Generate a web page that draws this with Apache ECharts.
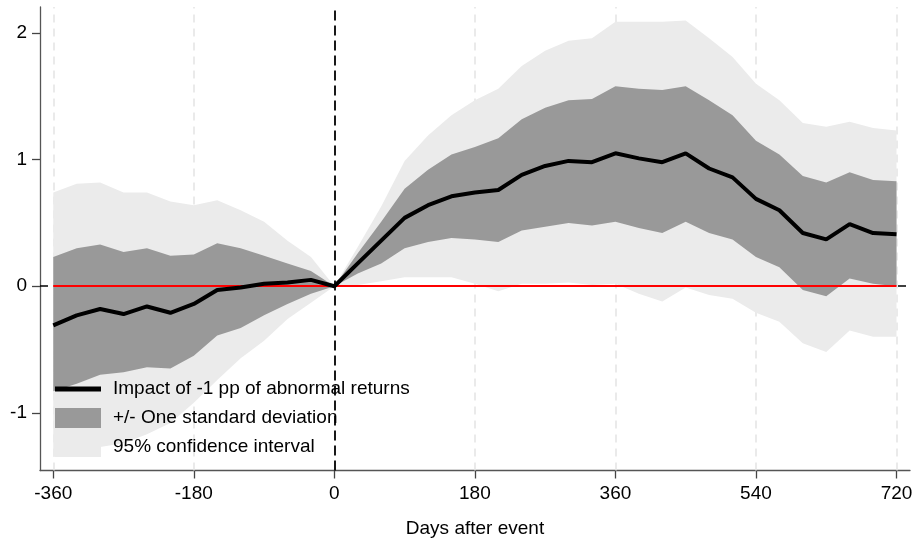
<!DOCTYPE html>
<html>
<head>
<meta charset="utf-8">
<title>Impact of abnormal returns</title>
<script src="https://cdn.jsdelivr.net/npm/echarts@6/dist/echarts.min.js"></script>
<style>
  html, body { margin: 0; padding: 0; background: #ffffff; }
  #chart { width: 914px; height: 539px; }
</style>
</head>
<body>
<div id="chart"></div>
<script>
// Days relative to the event, 30-day steps
const days = [-360, -330, -300, -270, -240, -210, -180, -150, -120, -90, -60, -30, 0,
  30, 60, 90, 120, 150, 180, 210, 240, 270, 300, 330, 360, 390, 420, 450, 480, 510,
  540, 570, 600, 630, 660, 690, 720];

// Point estimate of the impact
const impact = [-0.31, -0.23, -0.18, -0.22, -0.16, -0.21, -0.14, -0.03, -0.01, 0.02, 0.03, 0.05, 0,
  0.18, 0.36, 0.54, 0.64, 0.71, 0.74, 0.76, 0.88, 0.95, 0.99, 0.98, 1.05, 1.01, 0.98, 1.05, 0.93, 0.86,
  0.69, 0.60, 0.42, 0.37, 0.49, 0.42, 0.41];

// +/- one standard deviation
const sdHigh = [0.23, 0.30, 0.33, 0.27, 0.30, 0.24, 0.25, 0.34, 0.30, 0.24, 0.18, 0.12, 0,
  0.26, 0.51, 0.77, 0.92, 1.04, 1.10, 1.17, 1.32, 1.41, 1.47, 1.48, 1.58, 1.56, 1.55, 1.58, 1.47, 1.35,
  1.15, 1.04, 0.87, 0.82, 0.90, 0.84, 0.83];
const sdLow = [-0.83, -0.77, -0.70, -0.68, -0.64, -0.65, -0.55, -0.39, -0.33, -0.23, -0.14, -0.06, 0,
  0.10, 0.18, 0.30, 0.35, 0.38, 0.37, 0.35, 0.44, 0.47, 0.50, 0.48, 0.51, 0.46, 0.42, 0.51, 0.42, 0.37,
  0.23, 0.15, -0.03, -0.08, 0.06, 0.02, 0.00];

// 95% confidence interval
const ciHigh = [0.74, 0.81, 0.82, 0.74, 0.74, 0.67, 0.64, 0.68, 0.60, 0.51, 0.36, 0.23, 0,
  0.31, 0.63, 0.99, 1.19, 1.35, 1.47, 1.56, 1.74, 1.86, 1.94, 1.96, 2.09, 2.09, 2.09, 2.10, 1.96, 1.81,
  1.60, 1.47, 1.29, 1.26, 1.30, 1.25, 1.23];
const ciLow = [-1.35, -1.31, -1.27, -1.24, -1.17, -1.08, -0.92, -0.74, -0.57, -0.43, -0.26, -0.13, 0,
  0.01, 0.04, 0.07, 0.07, 0.07, 0.02, -0.04, 0.02, 0.02, 0.03, 0.01, 0.02, -0.06, -0.12, -0.01, -0.07, -0.10,
  -0.21, -0.28, -0.45, -0.52, -0.35, -0.40, -0.40];

// Axis tick labels
const xTicks = [-360, -180, 0, 180, 360, 540, 720];
const yTicks = [-1, 0, 1, 2];
const xGridLines = [-360, -180, 180, 360, 540, 720];

const NAME_LINE = 'Impact of -1 pp of abnormal returns';
const NAME_SD = '+/- One standard deviation';
const NAME_CI = '95% confidence interval';

const FONT = "'Liberation Sans', Arial, Helvetica, sans-serif";
const LIGHT = '#ebebeb';
const DARK = '#999999';

const pairs = (ys) => days.map((d, i) => [d, ys[i]]);

// A shaded band: one polygon running along the upper bound and back along the lower bound
function bandSeries(name, lo, hi, color, extra) {
  return Object.assign({
    name: name,
    type: 'custom',
    silent: true,
    z: 2,
    itemStyle: { color: color },
    encode: { x: 0, y: [1, 2] },
    data: days.map((d, i) => [d, lo[i], hi[i]]),
    renderItem: function (params, api) {
      if (params.dataIndex !== 0) return null;
      const pts = [];
      for (let i = 0; i < days.length; i++) pts.push(api.coord([days[i], hi[i]]));
      for (let i = days.length - 1; i >= 0; i--) pts.push(api.coord([days[i], lo[i]]));
      return {
        type: 'polygon',
        shape: { points: pts },
        style: { fill: color, stroke: null }
      };
    }
  }, extra || {});
}

const chart = echarts.init(document.getElementById('chart'), null, { renderer: 'canvas' });

chart.setOption({
  animation: false,
  backgroundColor: '#ffffff',
  textStyle: { fontFamily: FONT },
  grid: { left: 40, right: 4, top: 7, bottom: 68.5, outerBoundsMode: 'none', containLabel: false },
  xAxis: {
    type: 'value',
    min: -377,
    max: 737.3,
    name: 'Days after event',
    nameLocation: 'middle',
    nameGap: 49,
    nameTextStyle: { fontFamily: FONT, fontSize: 19, color: '#000' },
    axisLine: { show: true, onZero: false, lineStyle: { color: '#555', width: 1.3 } },
    axisTick: { show: true, length: 8, customValues: xTicks, lineStyle: { color: '#444', width: 1.3 } },
    axisLabel: { customValues: xTicks, margin: 14, fontFamily: FONT, fontSize: 19, color: '#000' },
    splitLine: { show: false }
  },
  yAxis: {
    type: 'value',
    min: -1.456,
    max: 2.206,
    axisLine: { show: true, onZero: false, lineStyle: { color: '#555', width: 1.3 } },
    axisTick: { show: true, length: 8, customValues: yTicks, lineStyle: { color: '#444', width: 1.3 } },
    axisLabel: { customValues: yTicks, margin: 13, fontFamily: FONT, fontSize: 19, color: '#000' },
    splitLine: { show: false }
  },
  legend: {
    left: 50,
    top: 374,
    orient: 'vertical',
    itemWidth: 46,
    itemHeight: 20,
    itemGap: 9,
    selectedMode: false,
    textStyle: { fontFamily: FONT, fontSize: 19, color: '#000', padding: [0, 0, 0, 7] },
    data: [
      {
        name: NAME_LINE,
        icon: 'path://M0,0 L46,0 M0,7.5 L46,7.5 L46,12.5 L0,12.5 Z M0,20 L46,20',
        itemStyle: { color: '#000', borderWidth: 0 }
      },
      { name: NAME_SD, icon: 'rect', itemStyle: { color: DARK, borderWidth: 0 } },
      { name: NAME_CI, icon: 'rect', itemStyle: { color: LIGHT, borderWidth: 0 } }
    ]
  },
  series: [
    bandSeries(NAME_CI, ciLow, ciHigh, LIGHT, {
      markLine: {
        silent: true,
        symbol: 'none',
        z: 1,
        label: { show: false },
        emphasis: { disabled: true },
        data: xGridLines.map((v) => ({ xAxis: v, lineStyle: { color: '#e3e3e3', width: 1.5, type: [8, 6] } }))
          .concat([{ yAxis: 0, lineStyle: { color: '#000', width: 1.5, type: [8, 5] } }])
      }
    }),
    bandSeries(NAME_SD, sdLow, sdHigh, DARK, {
      markLine: {
        silent: true,
        symbol: 'none',
        z: 3,
        label: { show: false },
        emphasis: { disabled: true },
        lineStyle: { color: '#ff0000', width: 1.8, type: 'solid' },
        data: [[{ coord: [days[0], 0] }, { coord: [days[days.length - 1], 0] }]]
      }
    }),
    {
      name: NAME_LINE,
      type: 'line',
      z: 4,
      symbol: 'none',
      silent: true,
      itemStyle: { color: '#000' },
      lineStyle: { color: '#000', width: 4 },
      emphasis: { disabled: true },
      data: pairs(impact),
      markLine: {
        silent: true,
        symbol: 'none',
        z: 6,
        label: { show: false },
        emphasis: { disabled: true },
        lineStyle: { color: '#000', width: 1.8, type: [10, 5] },
        data: [{ xAxis: 0 }]
      }
    }
  ]
});
</script>
</body>
</html>
